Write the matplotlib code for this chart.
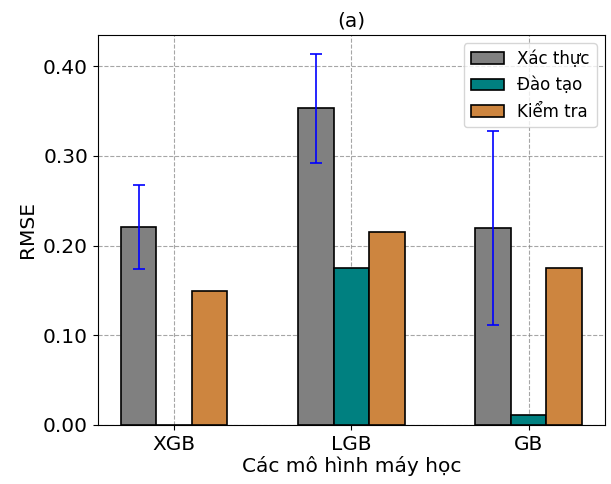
import matplotlib
matplotlib.use("Agg")
import matplotlib.pyplot as plt
import numpy as np

models = ["XGB", "LGB", "GB"]
series = ["Xác thực", "Đào tạo", "Kiểm tra"]
validation = [0.221, 0.353, 0.220]
validation_err = [0.047, 0.061, 0.108]
training = [0.0005, 0.175, 0.011]
testing = [0.149, 0.215, 0.175]

colors = ["#808080", "#008080", "#CD853F"]

fig, ax = plt.subplots(figsize=(6.11, 4.84), dpi=100)
fig.subplots_adjust(left=0.16, right=0.99, top=0.928, bottom=0.122)

x = np.arange(len(models))
w = 0.2
ax.bar(x - w, validation, w, color=colors[0], edgecolor="black", linewidth=1.2,
       label=series[0], yerr=validation_err, ecolor="blue",
       error_kw=dict(capsize=4, elinewidth=1.2, capthick=1.2), zorder=3)
ax.bar(x, training, w, color=colors[1], edgecolor="black", linewidth=1.2,
       label=series[1], zorder=3)
ax.bar(x + w, testing, w, color=colors[2], edgecolor="black", linewidth=1.2,
       label=series[2], zorder=3)

ax.set_xticks(x)
ax.set_xticklabels(models, fontsize=14.5)
ax.set_yticks([0.0, 0.1, 0.2, 0.3, 0.4])
ax.set_yticklabels(["0.00", "0.10", "0.20", "0.30", "0.40"], fontsize=14.5)
ax.set_ylim(0, 0.435)
ax.set_xlabel("Các mô hình máy học", fontsize=14.5, labelpad=2)
ax.set_ylabel("RMSE", fontsize=14.5)
ax.set_title("(a)", fontsize=14.5)
ax.grid(True, linestyle="--", color="gray", alpha=0.7, zorder=0)
ax.set_axisbelow(True)
ax.legend(loc="upper right", fontsize=12, handlelength=2.0)

fig.savefig("out.png", dpi=100)
